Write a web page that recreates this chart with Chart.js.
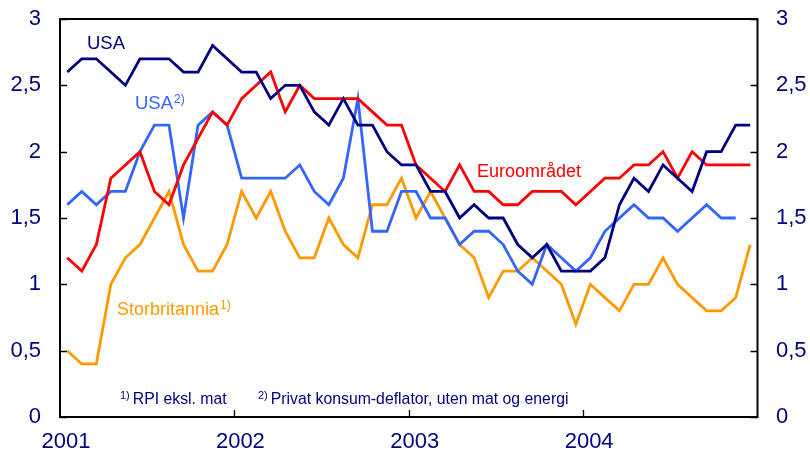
<!DOCTYPE html>
<html><head><meta charset="utf-8">
<script src="https://cdn.jsdelivr.net/npm/chart.js@4"></script>
<style>html,body{margin:0;padding:0;background:#fff}#wrap{width:810px;height:460px;position:relative}</style>
</head><body><div id="wrap"><canvas id="c" width="810" height="460"></canvas></div>
<script>
// ---- data (monthly, Jan 2001 - Dec 2004) ----
const years = ['2001', '2002', '2003', '2004'];
const yTicks = [0, 0.5, 1, 1.5, 2, 2.5, 3];
const usa = [2.6,2.7,2.7,2.6,2.5,2.7,2.7,2.7,2.6,2.6,2.8,2.7,
             2.6,2.6,2.4,2.5,2.5,2.3,2.2,2.4,2.2,2.2,2.0,1.9,
             1.9,1.7,1.7,1.5,1.6,1.5,1.5,1.3,1.2,1.3,1.1,1.1,
             1.1,1.2,1.6,1.8,1.7,1.9,1.8,1.7,2.0,2.0,2.2,2.2];
const euro = [1.2,1.1,1.3,1.8,1.9,2.0,1.7,1.6,1.9,2.1,2.3,2.2,
              2.4,2.5,2.6,2.3,2.5,2.4,2.4,2.4,2.4,2.3,2.2,2.2,
              1.9,1.8,1.7,1.9,1.7,1.7,1.6,1.6,1.7,1.7,1.7,1.6,
              1.7,1.8,1.8,1.9,1.9,2.0,1.8,2.0,1.9,1.9,1.9,1.9];
const usaCore = [1.6,1.7,1.6,1.7,1.7,2.0,2.2,2.2,1.5,2.2,2.3,2.2,
                 1.8,1.8,1.8,1.8,1.9,1.7,1.6,1.8,2.4,1.4,1.4,1.7,
                 1.7,1.5,1.5,1.3,1.4,1.4,1.3,1.1,1.0,1.3,1.2,1.1,
                 1.2,1.4,1.5,1.6,1.5,1.5,1.4,1.5,1.6,1.5,1.5,null];
const uk = [0.5,0.4,0.4,1.0,1.2,1.3,1.5,1.7,1.3,1.1,1.1,1.3,
            1.7,1.5,1.7,1.4,1.2,1.2,1.5,1.3,1.2,1.6,1.6,1.8,
            1.5,1.7,1.5,1.3,1.2,0.9,1.1,1.1,1.2,1.1,1.0,0.7,
            1.0,0.9,0.8,1.0,1.0,1.2,1.0,0.9,0.8,0.8,0.9,1.3];

const NAVY = '#000080', RED = '#ff0000', BLUE = '#3366ff', ORANGE = '#ff9900';
const FONT = "'Liberation Sans', Arial, sans-serif";
const toPts = arr => arr.map((v, i) => ({ x: i + 0.5, y: v }));
const fmt = v => String(v).replace('.', ',');

const framePlugin = {
  id: 'frame',
  afterDatasetsDraw(chart) {
    const { ctx, chartArea: a, scales } = chart;
    ctx.save();
    ctx.strokeStyle = '#000';
    ctx.lineWidth = 2;
    ctx.strokeRect(a.left, a.top, a.right - a.left, a.bottom - a.top);
    ctx.lineWidth = 1.3;
    ctx.beginPath();
    yTicks.forEach(v => {
      const y = Math.round(scales.y.getPixelForValue(v)) + 0.5;
      ctx.moveTo(a.left, y); ctx.lineTo(a.left + 7, y);
      ctx.moveTo(a.right - 7, y); ctx.lineTo(a.right, y);
    });
    years.forEach((yr, i) => {
      if (i === 0) return;
      const x = Math.round(scales.x.getPixelForValue(i * 12)) + 0.5;
      ctx.moveTo(x, a.bottom); ctx.lineTo(x, a.bottom - 7);
    });
    ctx.stroke();
    ctx.restore();
  }
};

const notes = [
  { t: 'USA', sup: '', c: NAVY, x: 87, y: 49, s: 18.5 },
  { t: 'USA', sup: '2)', c: BLUE, x: 135, y: 109, s: 18.5 },
  { t: 'Euroområdet', sup: '', c: RED, x: 477, y: 177, s: 18 },
  { t: 'Storbritannia', sup: '1)', c: ORANGE, x: 117, y: 315, s: 18 }
];
const footnotes = [
  { sup: '1)', t: 'RPI eksl. mat', x: 120, y: 404 },
  { sup: '2)', t: 'Privat konsum-deflator, uten mat og energi', x: 258, y: 404 }
];

const textPlugin = {
  id: 'texts',
  afterDraw(chart) {
    const ctx = chart.ctx;
    ctx.save();
    ctx.textBaseline = 'alphabetic';
    ctx.textAlign = 'left';
    notes.forEach(n => {
      ctx.fillStyle = n.c;
      ctx.font = n.s + 'px ' + FONT;
      ctx.fillText(n.t, n.x, n.y);
      if (n.sup) {
        const w = ctx.measureText(n.t).width;
        ctx.font = '12px ' + FONT;
        ctx.fillText(n.sup, n.x + w + 1, n.y - 6);
      }
    });
    ctx.fillStyle = NAVY;
    footnotes.forEach(f => {
      ctx.font = '11px ' + FONT;
      ctx.fillText(f.sup, f.x, f.y - 5);
      const w = ctx.measureText(f.sup).width;
      ctx.font = '15.8px ' + FONT;
      ctx.fillText(f.t, f.x + w + 3, f.y);
    });
    ctx.restore();
  }
};

const lineDs = (label, data, color, order) => ({
  label, data: toPts(data), borderColor: color, backgroundColor: color,
  borderWidth: 2.8, pointRadius: 0, tension: 0, spanGaps: false, order,
  borderJoinStyle: 'miter', borderCapStyle: 'butt'
});

const yAxis = (pos, width, pad) => ({
  type: 'linear', position: pos, min: 0, max: 3,
  afterBuildTicks: s => { s.ticks = yTicks.map(v => ({ value: v })); },
  afterFit: s => { s.width = width; s.paddingTop = 0; s.paddingBottom = 0; },
  ticks: { callback: v => fmt(v), color: NAVY, padding: pad,
           font: { family: FONT, size: 22 } },
  grid: { display: false, drawTicks: false },
  border: { display: false }
});

new Chart(document.getElementById('c'), {
  type: 'line',
  data: {
    datasets: [
      lineDs('USA', usa, NAVY, 1),
      lineDs('Euroområdet', euro, RED, 2),
      lineDs('USA 2)', usaCore, BLUE, 3),
      lineDs('Storbritannia 1)', uk, ORANGE, 4)
    ]
  },
  options: {
    responsive: false, animation: false, devicePixelRatio: 1,
    layout: { padding: { top: 19, left: 0, right: 0, bottom: 0 } },
    plugins: { legend: { display: false }, tooltip: { enabled: false } },
    scales: {
      x: {
        type: 'linear', position: 'bottom', min: 0, max: 48,
        afterBuildTicks: s => { s.ticks = years.map((y, i) => ({ value: i * 12 })); },
        afterFit: s => { s.height = 43; },
        ticks: { callback: v => years[Math.round(v / 12)], color: NAVY, padding: 12,
                 labelOffset: 6, maxRotation: 0, autoSkip: false,
                 font: { family: FONT, size: 22 } },
        grid: { display: false, drawTicks: false },
        border: { display: false }
      },
      y: yAxis('left', 60, 19),
      y2: yAxis('right', 52.5, 18.5)
    }
  },
  plugins: [framePlugin, textPlugin]
});
</script>
</body></html>
